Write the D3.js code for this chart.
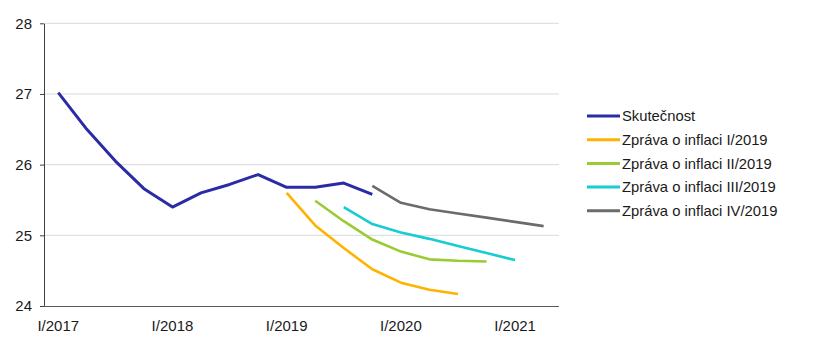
<!DOCTYPE html>
<html>
<head>
<meta charset="utf-8">
<script src="https://cdn.jsdelivr.net/npm/d3@7"></script>
<style>
  html, body { margin: 0; padding: 0; background: #fff; }
  svg { display: block; font-family: "Liberation Sans", Arial, sans-serif; }
</style>
</head>
<body>
<svg id="chart" width="824" height="350"></svg>
<script>
// Quarters shown on the horizontal axis
const quarters = [
  "I/2017", "II/2017", "III/2017", "IV/2017",
  "I/2018", "II/2018", "III/2018", "IV/2018",
  "I/2019", "II/2019", "III/2019", "IV/2019",
  "I/2020", "II/2020", "III/2020", "IV/2020",
  "I/2021", "II/2021"
];
const xTickLabels = ["I/2017", "I/2018", "I/2019", "I/2020", "I/2021"];
const yTicks = [24, 25, 26, 27, 28];

// Actual values, from I/2017
const actual = [27.02, 26.50, 26.05, 25.66, 25.40, 25.60, 25.72, 25.86, 25.68, 25.68, 25.74, 25.58];
// Forecasts from the individual inflation reports
const forecastI   = [25.60, 25.14, 24.82, 24.52, 24.33, 24.23, 24.17];           // from I/2019
const forecastII  = [25.49, 25.20, 24.94, 24.77, 24.66, 24.64, 24.63];           // from II/2019
const forecastIII = [25.40, 25.16, 25.04, 24.95, 24.85, 24.75, 24.65];           // from III/2019
const forecastIV  = [25.70, 25.46, 25.37, 25.31, 25.25, 25.19, 25.13];           // from IV/2019

const seriesNames = [
  "Skutečnost",
  "Zpráva o inflaci I/2019",
  "Zpráva o inflaci II/2019",
  "Zpráva o inflaci III/2019",
  "Zpráva o inflaci IV/2019"
];
const seriesStart = ["I/2017", "I/2019", "II/2019", "III/2019", "IV/2019"];
const seriesValues = [actual, forecastI, forecastII, forecastIII, forecastIV];
const seriesColors = ["#2b2ba6", "#ffb300", "#99cc33", "#17ccd2", "#6b6b6b"];
const seriesWidths = [3, 2.6, 2.6, 2.6, 2.6];

const svg = d3.select("#chart");
const plotLeft = 44, plotTop = 23.3, plotBottom = 306;
const bandStep = 28.55;

const x = d3.scaleBand().domain(quarters).range([plotLeft, plotLeft + bandStep * quarters.length]).padding(0);
const y = d3.scaleLinear().domain([24, 28]).range([plotBottom, plotTop]);
const plotRight = plotLeft + bandStep * quarters.length + 1;

// horizontal gridlines
svg.append("g")
  .selectAll("line")
  .data(yTicks.filter(v => v > 24))
  .join("line")
  .attr("x1", plotLeft).attr("x2", plotRight)
  .attr("y1", d => y(d)).attr("y2", d => y(d))
  .attr("stroke", "#d9d9d9").attr("stroke-width", 1);

// y axis
const yAxis = svg.append("g")
  .attr("transform", `translate(${plotLeft},0)`)
  .call(d3.axisLeft(y).tickValues(yTicks).tickSize(4).tickSizeOuter(0).tickPadding(8).tickFormat(d3.format("d")));
yAxis.select(".domain").attr("stroke", "#404040");
yAxis.selectAll(".tick line").attr("stroke", "#404040");
yAxis.selectAll("text").attr("font-size", 15).attr("fill", "#1a1a1a")
  .attr("font-family", "'Liberation Sans', Arial, sans-serif");

// x axis
const xAxis = svg.append("g")
  .attr("transform", `translate(0,${plotBottom})`)
  .call(d3.axisBottom(x).tickValues(xTickLabels).tickSize(0).tickSizeOuter(0).tickPadding(14));
xAxis.select(".domain").attr("stroke", "#595959").attr("d", `M${plotLeft},0.5H${plotRight}`);
xAxis.selectAll("text").attr("font-size", 15).attr("fill", "#1a1a1a")
  .attr("font-family", "'Liberation Sans', Arial, sans-serif");

// series lines
const cx = q => x(q) + x.bandwidth() / 2;
seriesValues.forEach((vals, i) => {
  const startIdx = quarters.indexOf(seriesStart[i]);
  const pts = vals.map((v, k) => [quarters[startIdx + k], v]);
  const line = d3.line().x(d => cx(d[0])).y(d => y(d[1]));
  svg.append("path")
    .datum(pts)
    .attr("d", line)
    .attr("fill", "none")
    .attr("stroke", seriesColors[i])
    .attr("stroke-width", seriesWidths[i])
    .attr("stroke-linejoin", "round")
    .attr("stroke-linecap", "butt");
});

// legend
const legend = svg.append("g").attr("transform", "translate(587,116)");
const rows = legend.selectAll("g").data(seriesNames).join("g")
  .attr("transform", (d, i) => `translate(0,${i * 23.7})`);
rows.append("line")
  .attr("x1", 0).attr("x2", 33).attr("y1", 0).attr("y2", 0)
  .attr("stroke", (d, i) => seriesColors[i]).attr("stroke-width", 3);
rows.append("text")
  .attr("x", 35).attr("y", 0).attr("dy", "0.35em")
  .attr("font-size", 14.8).attr("fill", "#1a1a1a")
  .text(d => d);
</script>
</body>
</html>
